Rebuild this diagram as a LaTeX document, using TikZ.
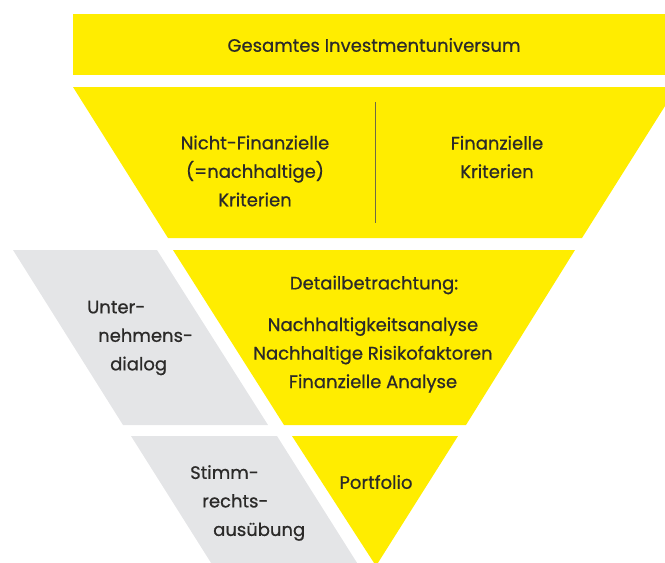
\documentclass[tikz,border=0pt]{standalone}
\usepackage{fontspec}
\setmainfont{Poppins}[UprightFeatures={FakeBold=0.7}]
\definecolor{gelb}{HTML}{FFED00}
\definecolor{hellgrau}{HTML}{E4E5E7}
\definecolor{schrift}{HTML}{2B2A29}
\definecolor{trenner}{HTML}{6E6A45}
\begin{document}
\begin{tikzpicture}[x=1pt, y=-1pt, line join=round, font=\fontsize{18}{28.5}\selectfont]
	\tikzset{beschriftung/.style={text=schrift, inner sep=0pt, align=center}}
	\useasboundingbox (0,0) rectangle (665,563);
	\clip (0,0) rectangle (665,563);
	% Trichter
	\fill[gelb] (73,14) rectangle (680,75);
	\fill[gelb] (73,87)--(677,87)--(582,238)--(168,238)--cycle;
	\fill[gelb] (173,250)--(575,250)--(466,425)--(284,425)--cycle;
	\fill[gelb] (292,436)--(458,436)--(376,566)--cycle;
	\fill[hellgrau] (13,250)--(157,250)--(268,425)--(123,425)--cycle;
	\fill[hellgrau] (131,436)--(277,436)--(359,566)--(213,566)--cycle;
	\draw[trenner, line width=1pt] (375,102)--(375,223);
	% Texte
	\node[beschriftung] (universum) at (374,45) {Gesamtes Investmentuniversum};
	\node[beschriftung] (nichtfin) at (255,171) {Nicht-Finanzielle\\(=nachhaltige)\\Kriterien};
	\node[beschriftung] (fin) at (497,157) {Finanzielle\\Kriterien};
	\node[beschriftung] (detail) at (374,285) {Detailbetrachtung:};
	\node[beschriftung] (analysen) at (373,355) {Nachhaltigkeitsanalyse\\Nachhaltige Risikofaktoren\\Finanzielle Analyse};
	\node[beschriftung, align=left, anchor=west] (dialog) at (87,338) {Unter-\\\hspace*{11pt}nehmens-\\\hspace*{23pt}dialog};
	\node[beschriftung, align=left, anchor=west] (stimmrecht) at (190,503) {Stimm-\\\hspace*{12pt}rechts-\\\hspace*{23pt}ausübung};
	\node[beschriftung] (portfolio) at (376,482) {Portfolio};
\end{tikzpicture}
\end{document}
